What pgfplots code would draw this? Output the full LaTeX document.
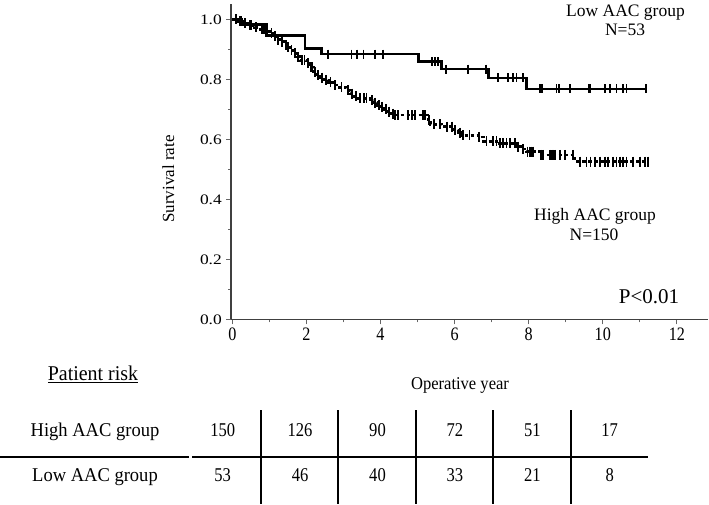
\documentclass[border=0pt]{standalone}
\usepackage{pgfplots}
\pgfplotsset{compat=1.18}
\usepackage{fontspec}
\setmainfont{Liberation Serif}
\newcommand{\fs}[1]{\fontsize{#1}{#1}\selectfont}

\begin{document}
\begin{tikzpicture}[x=1pt,y=1pt]
\useasboundingbox (0,0) rectangle (709,-504);
\begin{axis}[at={(231pt,-319.3pt)}, anchor=south west, scale only axis,
  width=477pt, height=315.3pt,
  xmin=-0.035, xmax=12.84, ymin=0, ymax=1.051,
  axis lines*=left, axis line style={black!75, line width=1.2pt},
  xtick={0,2,4,6,8,10,12}, ytick={0,0.2,0.4,0.6,0.8,1.0},
  minor x tick num=1, minor y tick num=1,
  tick align=outside, major tick length=5pt, minor tick length=3pt,
  tick style={black!60, line width=0.9pt},
  /pgf/number format/assume math mode=true,
  xticklabel style={font=\fs{19}, xscale=0.85},
  yticklabel style={font=\fs{14.5}, xscale=1.2, /pgf/number format/.cd, fixed, fixed zerofill, precision=1},
  clip=false]
% Low AAC group (solid)
\addplot[const plot, black, line width=2.6pt, mark=none] coordinates {
(0,1.000) (0.25,0.983) (0.93,0.947) (1.96,0.903) (2.41,0.884) (5.02,0.859)
(5.65,0.834) (6.91,0.805) (7.94,0.768) (11.16,0.768)};
\addplot[only marks, black, mark=|, mark size=4.5pt, mark options={line width=1.8pt}] coordinates {
(2.59,0.884) (3.22,0.884) (3.36,0.884) (3.54,0.884) (3.85,0.884) (4.06,0.884)
(5.38,0.859) (5.47,0.859) (5.56,0.859)
(5.76,0.834) (6.37,0.834) (6.85,0.834)
(7.18,0.805) (7.45,0.805) (7.58,0.805) (7.67,0.805) (7.85,0.805)
(8.30,0.768) (8.35,0.768) (8.75,0.768) (8.82,0.768) (9.11,0.768) (9.63,0.768) (9.67,0.768)
(10.05,0.768) (10.19,0.768) (10.37,0.768) (10.55,0.768) (10.64,0.768) (11.16,0.768)};
% High AAC group (dotted)
\addplot[const plot, black, line width=2.8pt, dash pattern=on 3.5pt off 2.5pt, mark=none] coordinates {
(0,1.000) (0.15,0.993) (0.30,0.987) (0.42,0.980) (0.60,0.973) (0.75,0.967) (0.90,0.960)
(1.02,0.953) (1.10,0.945) (1.20,0.932) (1.30,0.925) (1.40,0.915) (1.47,0.908) (1.55,0.898)
(1.65,0.887) (1.75,0.875) (1.83,0.864) (2.01,0.853) (2.08,0.840) (2.19,0.826) (2.28,0.815)
(2.38,0.806) (2.46,0.798) (2.60,0.790) (2.73,0.781) (2.90,0.773) (3.09,0.764) (3.20,0.752)
(3.30,0.743) (3.36,0.737) (3.72,0.731) (3.82,0.722) (3.92,0.714) (3.99,0.708) (4.10,0.700)
(4.20,0.692) (4.30,0.686) (4.35,0.681) (5.28,0.665) (5.34,0.650) (5.65,0.642) (5.97,0.631)
(6.10,0.622) (6.19,0.614) (6.64,0.608) (6.77,0.594) (7.22,0.587) (7.67,0.576) (7.80,0.568)
(7.94,0.559) (8.30,0.548) (9.24,0.526) (11.22,0.526)};
\addplot[only marks, black, mark=|, mark size=5pt, mark options={line width=1.8pt}] coordinates {
(0.10,1.000) (0.20,0.993) (0.25,0.993) (0.35,0.987) (0.47,0.980) (0.52,0.980) (0.65,0.973)
(0.80,0.967) (0.85,0.967) (0.95,0.960) (1.06,0.953) (1.15,0.945) (1.24,0.932) (1.34,0.925)
(1.44,0.915) (1.50,0.908) (1.60,0.898) (1.70,0.887) (1.78,0.875) (1.88,0.864) (1.95,0.864)
(2.04,0.853) (2.12,0.840) (2.15,0.840) (2.23,0.826) (2.32,0.815) (2.42,0.806) (2.52,0.798)
(2.65,0.790) (2.78,0.781) (2.95,0.773) (3.12,0.764) (3.24,0.752) (3.33,0.743) (3.45,0.737)
(3.55,0.737) (3.62,0.737) (3.76,0.731) (3.86,0.722) (3.95,0.714) (4.04,0.708) (4.14,0.700)
(4.24,0.692) (4.33,0.686) (4.40,0.681) (4.47,0.681) (4.75,0.681) (4.84,0.681) (4.93,0.681)
(5.15,0.681) (5.20,0.681) (5.31,0.665) (5.45,0.650) (5.60,0.650) (5.80,0.642) (5.92,0.642)
(6.01,0.631) (6.14,0.622) (6.22,0.614) (6.40,0.614) (6.66,0.608) (6.86,0.594) (7.04,0.594)
(7.13,0.594) (7.22,0.587) (7.31,0.587) (7.40,0.587) (7.49,0.587) (7.63,0.587) (7.72,0.576)
(7.84,0.568) (7.97,0.559) (8.02,0.559) (8.07,0.559) (8.12,0.559) (8.33,0.548) (8.39,0.548)
(8.57,0.548) (8.62,0.548) (8.66,0.548) (8.71,0.548) (8.84,0.548) (8.97,0.548) (9.20,0.548)
(9.38,0.526) (9.56,0.526) (9.67,0.526) (9.79,0.526) (9.92,0.526) (10.05,0.526) (10.14,0.526)
(10.28,0.526) (10.37,0.526) (10.46,0.526) (10.55,0.526) (10.64,0.526) (10.82,0.526)
(11.00,0.526) (11.14,0.526) (11.22,0.526)};
\end{axis}
% annotations
\node[rotate=90, anchor=base, font=\fs{17}] at (174,-179) {Survival rate};
\node[anchor=base, font=\fs{17.5}] at (625.5,-16) {Low AAC group};
\node[anchor=base, font=\fs{17.5}] at (625,-35) {N=53};
\node[anchor=base, font=\fs{17.5}] at (595,-220) {High AAC group};
\node[anchor=base, font=\fs{17.5}] at (594,-240) {N=150};
\node[anchor=base, font=\fs{21}] at (649,-303.3) {P<0.01};
% risk table
\node[anchor=base, font=\fs{21}, xscale=0.95] at (93,-380.7) {\underline{Patient risk}};
\node[anchor=base, font=\fs{18}, xscale=0.92] at (460,-389.3) {Operative year};
\node[anchor=base, font=\fs{19.5}, xscale=0.95] at (95,-436) {High AAC group};
\node[anchor=base, font=\fs{19.5}, xscale=0.95] at (95,-481.7) {Low AAC group};
\foreach \v [count=\i from 0] in {150,126,90,72,51,17}
  \node[anchor=base, font=\fs{19.5}, xscale=0.85] at ({222.7+77.4*\i},-436) {\v};
\foreach \v [count=\i from 0] in {53,46,40,33,21,8}
  \node[anchor=base, font=\fs{19.5}, xscale=0.85] at ({222.7+77.4*\i},-481.7) {\v};
\draw[line width=2pt] (0,-456.7) -- (189,-456.7);
\draw[line width=2pt] (192,-456.7) -- (648,-456.7);
\foreach \x in {261,338,416,493,571}
  \draw[line width=2pt] (\x,-410) -- (\x,-504);
\end{tikzpicture}
\end{document}
